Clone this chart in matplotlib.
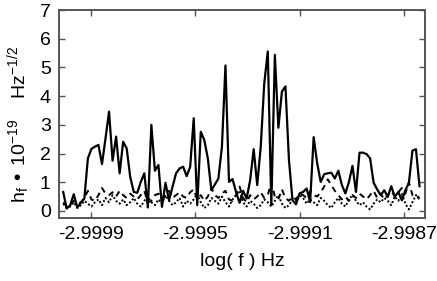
import numpy as np
import matplotlib
matplotlib.use('Agg')
import matplotlib.pyplot as plt

plt.rcParams['font.family'] = ['Liberation Sans', 'DejaVu Sans']
plt.rcParams['axes.unicode_minus'] = False

# log(f) grid of the spectrum
f_start = -3.000005
f_stop = -2.998642

# amplitudes, units of 1e-19 Hz^-1/2
solid = [0.66, 0.08, 0.20, 0.58, 0.12, 0.28, 0.43, 1.83, 2.16, 2.24,
         2.30, 1.63, 2.53, 3.46, 1.75, 2.59, 1.31, 2.41, 2.18, 1.19,
         0.66, 0.63, 1.01, 1.31, 0.12, 3.00, 1.40, 1.60, 0.14, 0.98,
         0.37, 0.84, 1.31, 1.48, 1.54, 1.21, 1.54, 3.23, 0.20, 2.76,
         2.47, 1.83, 0.72, 0.92, 1.13, 2.24, 5.07, 1.01, 1.11, 0.66,
         0.28, 0.70, 0.43, 1.07, 2.15, 0.90, 2.24, 4.45, 5.56, 0.20,
         5.44, 2.90, 4.16, 4.34, 1.77, 0.37, 0.23, 0.61, 0.66, 0.78,
         0.31, 2.57, 1.66, 1.01, 1.28, 1.31, 1.33, 1.13, 1.40, 0.90,
         0.61, 1.01, 1.57, 0.66, 2.03, 2.03, 1.98, 1.83, 0.98, 0.75,
         0.55, 0.72, 0.49, 0.86, 0.49, 0.66, 0.37, 0.72, 0.98, 2.10,
         2.15, 0.86]

dashed = [0.30, 0.15, 0.20, 0.35, 0.25, 0.30, 0.45, 0.70, 0.40, 0.35,
          0.55, 0.80, 0.60, 0.55, 0.65, 0.50, 0.70, 0.55, 0.45, 0.60,
          0.50, 0.40, 0.55, 0.70, 0.30, 0.35, 0.55, 0.60, 0.40, 0.50,
          0.70, 0.45, 0.55, 0.65, 0.50, 0.45, 0.65, 0.75, 0.40, 0.55,
          0.35, 0.50, 0.80, 0.55, 0.45, 0.60, 0.70, 0.40, 0.35, 0.55,
          0.85, 0.45, 0.30, 0.55, 0.40, 0.50, 0.65, 0.45, 0.55, 1.00,
          0.50, 0.40, 0.75, 0.45, 0.35, 0.50, 0.40, 0.60, 0.55, 0.45,
          0.70, 0.55, 0.50, 0.65, 0.85, 1.10, 0.90, 0.70, 0.55, 0.40,
          0.50, 0.35, 0.55, 0.45, 0.60, 0.50, 0.40, 0.55, 0.70, 0.45,
          0.60, 0.40, 0.55, 0.70, 0.50, 0.65, 0.80, 0.60, 1.00, 0.55,
          0.45, 0.50]

dotted = [0.25, 0.10, 0.15, 0.30, 0.10, 0.20, 0.35, 0.25, 0.15, 0.30,
          0.40, 0.20, 0.45, 0.30, 0.55, 0.35, 0.25, 0.40, 0.20, 0.30,
          0.45, 0.25, 0.15, 0.35, 0.50, 0.30, 0.20, 0.40, 0.25, 0.55,
          0.35, 0.20, 0.30, 0.45, 0.15, 0.35, 0.25, 0.40, 0.60, 0.30,
          0.10, 0.20, 0.45, 0.35, 0.25, 0.50, 0.30, 0.15, 0.40, 0.55,
          0.70, 0.30, 0.15, 0.35, 0.25, 0.10, 0.20, 0.40, 0.30, 0.15,
          0.35, 0.55, 0.25, 0.10, 0.20, 0.40, 0.35, 0.55, 0.45, 0.25,
          0.40, 0.30, 0.20, 0.45, 0.35, 0.20, 0.10, 0.30, 0.45, 0.25,
          0.15, 0.40, 0.55, 0.35, 0.20, 0.30, 0.15, 0.05, 0.25, 0.40,
          0.30, 0.45, 0.35, 0.20, 0.50, 0.35, 0.60, 0.25, 0.05, 0.30,
          0.55, 0.40]

xticks = [-2.9999, -2.9995, -2.9991, -2.9987]
xticklabels = ['-2.9999', '-2.9995', '-2.9991', '-2.9987']
yticks = [0, 1, 2, 3, 4, 5, 6, 7]

logf = np.linspace(f_start, f_stop, len(solid))

fig = plt.figure(figsize=(4.37, 2.81), dpi=100)
ax = fig.add_axes([0.135, 0.224, 0.8375, 0.740])

ax.plot(logf, dotted, color='black', lw=1.4, linestyle=(0, (1, 1.1)))
ax.plot(logf, dashed, color='black', lw=1.4, linestyle=(0, (3, 2.5)))
ax.plot(logf, solid, color='black', lw=1.6)

ax.set_xlim(-3.000021, -2.998621)
ax.set_ylim(-0.25, 7)
ax.set_xticks(xticks, labels=xticklabels)
ax.set_yticks(yticks)

for s in ax.spines.values():
    s.set_color('#555555')
    s.set_linewidth(1.4)
ax.tick_params(direction='in', length=4, width=1, color='#555555',
               top=True, right=True, labelsize=14, pad=6)

ax.set_xlabel('log( f ) Hz', fontsize=14, labelpad=7)
ax.set_ylabel(r'$\mathregular{h_f}$ • $\mathregular{10^{-19}}$    $\mathregular{Hz^{-1/2}}$',
              fontsize=14)
ax.yaxis.set_label_coords(-0.075, 0.45)

fig.savefig('out.png', dpi=100)
